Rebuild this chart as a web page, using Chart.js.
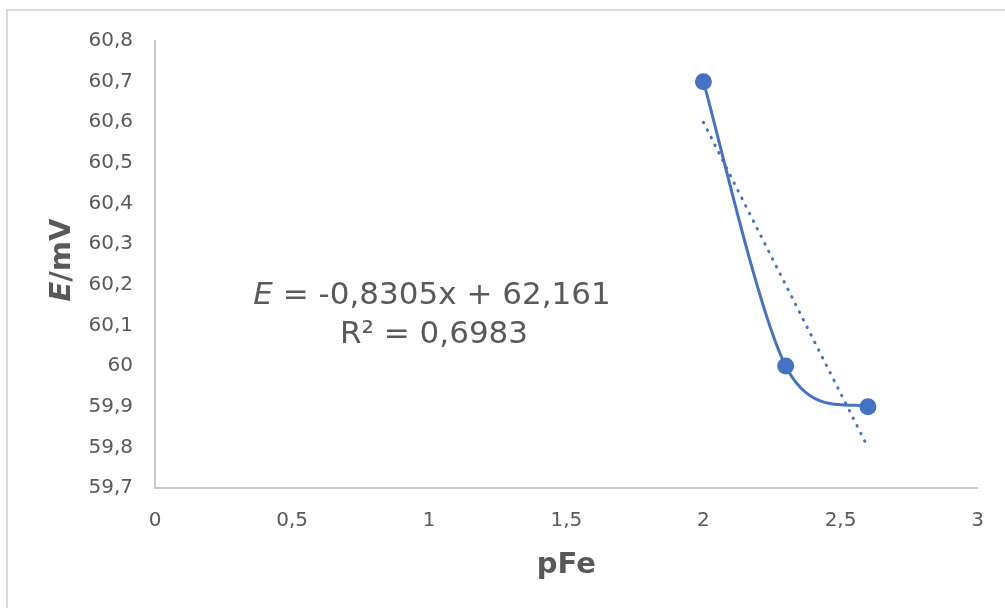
<!DOCTYPE html>
<html>
<head>
<meta charset="utf-8">
<script src="https://cdn.jsdelivr.net/npm/chart.js@4/dist/chart.umd.min.js"></script>
<style>
  body { margin: 0; background: #fff; overflow: hidden; }
  #wrap { position: relative; width: 1005px; height: 608px; }
  #frame { position: absolute; left: 6px; top: 9px; width: 1100px; height: 700px;
           border-left: 2px solid #d9d9d9; border-top: 2px solid #d9d9d9; pointer-events: none; }
</style>
</head>
<body>
<div id="wrap">
  <canvas id="chart" width="1005" height="608"></canvas>
  <div id="frame"></div>
</div>
<script>
// measured points (pFe, E)
const pFe = [2, 2.3, 2.6];
const potential = [60.7, 60.0, 59.9];

// linear trendline ends
const trendX = [2, 2.6];
const trendY = [60.6, 59.8];

const xTicks = [0, 0.5, 1, 1.5, 2, 2.5, 3];
const yTicks = [59.7, 59.8, 59.9, 60, 60.1, 60.2, 60.3, 60.4, 60.5, 60.6, 60.7, 60.8];

const eqLine1 = ' = -0,8305x + 62,161';
const eqLine2 = 'R² = 0,6983';

const grey = '#595959';
const blue = '#4472c4';
const fam = 'DejaVu Sans, Verdana, sans-serif';

function fmt(v) {
    return String(Math.round(v * 10) / 10).replace('.', ',');
}

// Excel style smoothing: control points from the neighbours, factor 1/6
const smoothPlugin = {
    id: 'excelSmooth',
    beforeDatasetDraw(chart, args) {
        if (args.index !== 0) return;
        const pts = args.meta.data;
        const n = pts.length;
        for (let i = 0; i < n; i++) {
            const p = pts[i];
            const prev = pts[Math.max(i - 1, 0)];
            const next = pts[Math.min(i + 1, n - 1)];
            const dx = (next.x - prev.x) / 6;
            const dy = (next.y - prev.y) / 6;
            p.cp1x = p.x - dx;
            p.cp1y = p.y - dy;
            p.cp2x = p.x + dx;
            p.cp2y = p.y + dy;
        }
        args.meta.dataset._pointsUpdated = true;
    }
};

const textPlugin = {
    id: 'extraText',
    afterDraw(chart) {
        const ctx = chart.ctx;
        ctx.save();
        ctx.fillStyle = grey;
        ctx.textBaseline = 'middle';

        // y axis title, E in italics
        ctx.save();
        ctx.translate(62, 260);
        ctx.rotate(-Math.PI / 2);
        ctx.font = 'italic bold 29px ' + fam;
        const wE = ctx.measureText('E').width;
        ctx.font = 'bold 29px ' + fam;
        const wRest = ctx.measureText('/mV').width;
        let x0 = -(wE + wRest) / 2;
        ctx.textAlign = 'left';
        ctx.font = 'italic bold 29px ' + fam;
        ctx.fillText('E', x0, 0);
        ctx.font = 'bold 29px ' + fam;
        ctx.fillText('/mV', x0 + wE, 0);
        ctx.restore();

        // trendline equation
        ctx.textAlign = 'left';
        ctx.font = 'italic 31px ' + fam;
        const e1 = ctx.measureText('E').width;
        ctx.font = '31px ' + fam;
        const e2 = ctx.measureText(eqLine1).width;
        let sx = 432 - (e1 + e2) / 2;
        ctx.font = 'italic 31px ' + fam;
        ctx.fillText('E', sx, 296);
        ctx.font = '31px ' + fam;
        ctx.fillText(eqLine1, sx + e1, 296);
        ctx.textAlign = 'center';
        ctx.fillText(eqLine2, 434, 335);
        ctx.restore();
    }
};

const ctx = document.getElementById('chart');

new Chart(ctx, {
    type: 'scatter',
    data: {
        datasets: [
            {
                label: 'E',
                data: pFe.map((x, i) => ({x: x, y: potential[i]})),
                showLine: true,
                tension: 0.4,
                borderColor: blue,
                backgroundColor: blue,
                borderWidth: 3,
                pointRadius: 7,
                pointHoverRadius: 7
            },
            {
                label: 'Lineal (E)',
                data: trendX.map((x, i) => ({x: x, y: trendY[i]})),
                showLine: true,
                borderColor: blue,
                borderWidth: 3,
                borderDash: [0.5, 8],
                borderCapStyle: 'round',
                pointRadius: 0
            }
        ]
    },
    options: {
        responsive: false,
        animation: false,
        layout: {
            padding: {left: 0, top: 41, right: 27, bottom: 0}
        },
        scales: {
            x: {
                type: 'linear',
                min: 0,
                max: 3,
                afterBuildTicks: (s) => { s.ticks = xTicks.map(v => ({value: v})); },
                afterFit: (s) => { s.height = 120; },
                grid: {display: false, drawTicks: false},
                border: {display: true, color: '#c8c8c8', width: 2},
                ticks: {
                    padding: 21,
                    color: grey,
                    font: {family: fam, size: 20},
                    callback: (v) => fmt(v)
                },
                title: {
                    display: true,
                    text: 'pFe',
                    color: grey,
                    padding: {top: 0, bottom: 25},
                    font: {family: fam, size: 29, weight: 'bold'}
                }
            },
            y: {
                type: 'linear',
                min: 59.7,
                max: 60.8,
                afterBuildTicks: (s) => { s.ticks = yTicks.map(v => ({value: v})); },
                afterFit: (s) => { s.width = 155; },
                grid: {display: false, drawTicks: false},
                border: {display: true, color: '#c8c8c8', width: 2},
                ticks: {
                    padding: 22,
                    color: grey,
                    font: {family: fam, size: 20},
                    callback: (v) => fmt(v)
                }
            }
        },
        plugins: {
            legend: {display: false},
            tooltip: {enabled: false}
        }
    },
    plugins: [smoothPlugin, textPlugin]
});
</script>
</body>
</html>
